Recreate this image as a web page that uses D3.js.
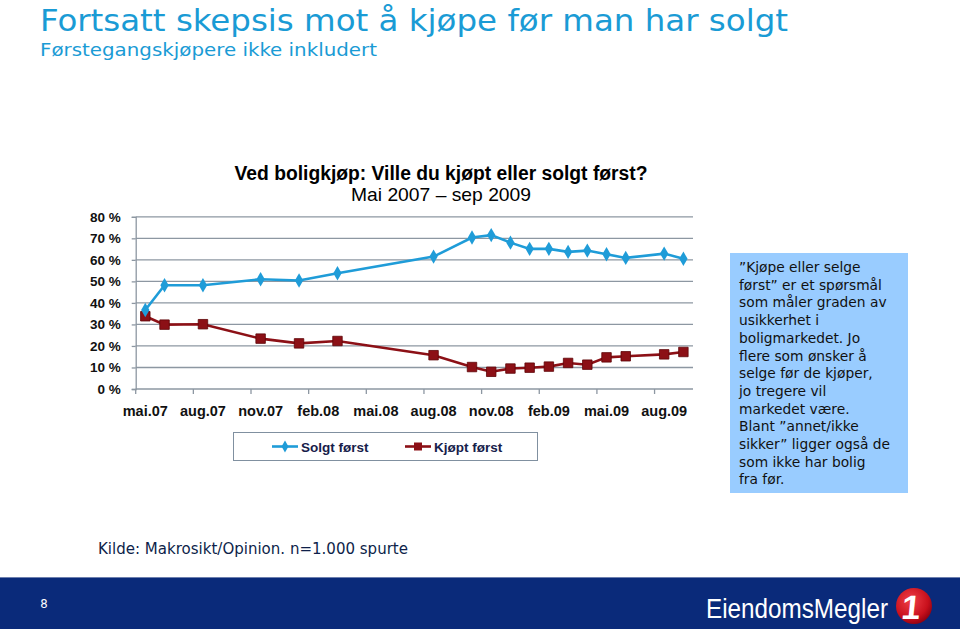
<!DOCTYPE html>
<html><head><meta charset="utf-8">
<script src="https://cdn.jsdelivr.net/npm/d3@7"></script>
<style>body{margin:0;background:#fff} svg{display:block}</style>
</head><body>
<svg id="c" width="960" height="629"></svg>
<script>
// ---- data ----
const months = ["mai.07","jun.07","jul.07","aug.07","sep.07","okt.07","nov.07","des.07",
  "jan.08","feb.08","mar.08","apr.08","mai.08","jun.08","jul.08","aug.08","sep.08","okt.08","nov.08","des.08",
  "jan.09","feb.09","mar.09","apr.09","mai.09","jun.09","jul.09","aug.09","sep.09"];
const tickLabels = ["mai.07","aug.07","nov.07","feb.08","mai.08","aug.08","nov.08","feb.09","mai.09","aug.09"];
const surveyMonths = ["mai.07","jun.07","aug.07","nov.07","jan.08","mar.08","aug.08","okt.08","nov.08","des.08",
  "jan.09","feb.09","mar.09","apr.09","mai.09","jun.09","aug.09","sep.09"];
const solgtForst = [36.7,48.2,48.2,51.0,50.4,53.8,61.5,70.4,71.5,68.0,65.1,65.1,63.7,64.3,62.6,60.9,62.9,60.5];
const kjoptForst = [33.8,29.9,30.1,23.4,21.2,22.3,15.7,10.2,8.0,9.5,9.9,10.4,12.1,11.3,14.7,15.2,16.1,17.2];
const yTicks = [0,10,20,30,40,50,60,70,80];
const seriesNames = ["Solgt først","Kjøpt først"];
const noteLines = ["\u201DKjøpe eller selge","først\u201D er et spørsmål","som måler graden av","usikkerhet i",
  "boligmarkedet. Jo","flere som ønsker å","selge før de kjøper,","jo tregere vil","markedet være.",
  "Blant \u201Dannet/ikke","sikker\u201D ligger også de","som ikke har bolig","fra før."];

const BLUE = "#1f9cd8", RED = "#8c1016", TITLE = "#1a9bd5";
const svg = d3.select("#c");

// ---- slide titles ----
svg.append("text").attr("x",40).attr("y",31).attr("fill",TITLE)
  .style("font-family","'DejaVu Sans Condensed','DejaVu Sans',sans-serif").style("font-stretch","condensed")
  .style("font-size","31px").attr("textLength",748).attr("lengthAdjust","spacingAndGlyphs")
  .text("Fortsatt skepsis mot å kjøpe før man har solgt");
svg.append("text").attr("x",40).attr("y",56).attr("fill",TITLE)
  .style("font-family","'DejaVu Sans Condensed','DejaVu Sans',sans-serif").style("font-stretch","condensed")
  .style("font-size","18px").attr("textLength",337).attr("lengthAdjust","spacingAndGlyphs")
  .text("Førstegangskjøpere ikke inkludert");

// ---- chart titles ----
svg.append("text").attr("x",441).attr("y",180).attr("text-anchor","middle")
  .style("font-family","'Liberation Sans',Arial,sans-serif").style("font-weight","bold").style("font-size","20px")
  .attr("textLength",413).attr("lengthAdjust","spacingAndGlyphs").attr("fill","#000")
  .text("Ved boligkjøp: Ville du kjøpt eller solgt først?");
svg.append("text").attr("x",441).attr("y",201).attr("text-anchor","middle")
  .style("font-family","'Liberation Sans',Arial,sans-serif").style("font-size","19px")
  .attr("textLength",180).attr("lengthAdjust","spacingAndGlyphs").attr("fill","#000")
  .text("Mai 2007 \u2013 sep 2009");

// ---- scales ----
const x = d3.scaleBand().domain(months).range([135.7, 693]).padding(0);
const y = d3.scaleLinear().domain([0,80]).range([389, 216.8]);
const cx = m => x(m) + x.bandwidth()/2;

const g = svg.append("g");
// gridlines
g.selectAll("line.grid").data(yTicks.filter(d=>d>0)).join("line")
  .attr("x1",x.range()[0]).attr("x2",x.range()[1])
  .attr("y1",d=>y(d)).attr("y2",d=>y(d))
  .attr("stroke","#8d97a2").attr("stroke-width",1.3);

// y axis
const yAxis = d3.axisLeft(y).tickValues(yTicks).tickSize(4).tickPadding(11).tickFormat(d=>d+" %");
const ya = g.append("g").attr("transform",`translate(${x.range()[0]},0)`).call(yAxis);
ya.select(".domain").attr("stroke","#8d97a2").attr("stroke-width",1.3);
ya.selectAll(".tick line").attr("stroke","#8d97a2").attr("stroke-width",1.3);
ya.selectAll(".tick text").style("font-family","'Liberation Sans',Arial,sans-serif")
  .style("font-weight","bold").style("font-size","13.5px").attr("fill","#111");

// x axis baseline
g.append("line").attr("x1",x.range()[0]).attr("x2",x.range()[1]).attr("y1",y(0)).attr("y2",y(0))
  .attr("stroke","#8d97a2").attr("stroke-width",1.3);
// x tick marks at band boundaries
g.selectAll("line.xt").data(tickLabels).join("line")
  .attr("x1",d=>x(d)).attr("x2",d=>x(d)).attr("y1",y(0)).attr("y2",y(0)+5)
  .attr("stroke","#8d97a2").attr("stroke-width",1.3);
// x labels
const xAxis = d3.axisBottom(x).tickValues(tickLabels).tickSize(0).tickPadding(17);
const xa = g.append("g").attr("transform",`translate(0,${y(0)})`).call(xAxis);
xa.select(".domain").remove();
xa.selectAll(".tick text").style("font-family","'Liberation Sans',Arial,sans-serif")
  .style("font-weight","bold").style("font-size","14.5px").attr("fill","#111");

// lines
const line = d3.line().x((d,i)=>cx(surveyMonths[i])).y(d=>y(d));
g.append("path").datum(kjoptForst).attr("d",line).attr("fill","none").attr("stroke",RED).attr("stroke-width",2.6);
g.append("path").datum(solgtForst).attr("d",line).attr("fill","none").attr("stroke",BLUE).attr("stroke-width",2.6);

const diamond = d3.symbol().type(d3.symbolDiamond).size(60);
const square = d3.symbol().type(d3.symbolSquare).size(90);
g.selectAll("path.sq").data(kjoptForst).join("path").attr("d",square)
  .attr("transform",(d,i)=>`translate(${cx(surveyMonths[i])},${y(d)})`)
  .attr("fill",RED).attr("stroke","#5e0508").attr("stroke-width",0.8);
g.selectAll("path.dm").data(solgtForst).join("path").attr("d",diamond)
  .attr("transform",(d,i)=>`translate(${cx(surveyMonths[i])},${y(d)})`)
  .attr("fill",BLUE);

// legend
const lg = svg.append("g");
lg.append("rect").attr("x",233.5).attr("y",432.5).attr("width",304).attr("height",28)
  .attr("fill","#fff").attr("stroke","#8090a0").attr("stroke-width",1);
const legendItems = [{name:seriesNames[0],x0:272,color:BLUE},{name:seriesNames[1],x0:405,color:RED}];
legendItems.forEach((it,k)=>{
  lg.append("line").attr("x1",it.x0).attr("x2",it.x0+26).attr("y1",446.5).attr("y2",446.5)
    .attr("stroke",it.color).attr("stroke-width",2.6);
  lg.append("path").attr("d",k===0?d3.symbol().type(d3.symbolDiamond).size(40)():d3.symbol().type(d3.symbolSquare).size(64)())
    .attr("transform",`translate(${it.x0+13},446.5)`).attr("fill",it.color);
  lg.append("text").attr("x",it.x0+29).attr("y",451.5)
    .style("font-family","'Liberation Sans',Arial,sans-serif").style("font-weight","bold").style("font-size","13.5px")
    .attr("fill","#16204a").text(it.name);
});

// note box
svg.append("rect").attr("x",730).attr("y",253).attr("width",178).attr("height",240).attr("fill","#99ccff");
svg.append("g").selectAll("text").data(noteLines).join("text")
  .attr("x",739).attr("y",(d,i)=>272+i*17.7)
  .style("font-family","'DejaVu Sans',Verdana,sans-serif").style("font-size","13.8px").attr("fill","#111")
  .text(d=>d);

// source
svg.append("text").attr("x",98).attr("y",554).attr("fill","#0e1f4a")
  .style("font-family","'DejaVu Sans Condensed','DejaVu Sans',sans-serif").style("font-stretch","condensed")
  .style("font-size","15px").attr("textLength",310).attr("lengthAdjust","spacingAndGlyphs")
  .text("Kilde: Makrosikt/Opinion. n=1.000 spurte");

// footer
svg.append("rect").attr("x",0).attr("y",577).attr("width",960).attr("height",52).attr("fill","#0a2a7a");
svg.append("line").attr("x1",0).attr("x2",960).attr("y1",577.5).attr("y2",577.5).attr("stroke","#6d7fae");
svg.append("text").attr("x",44).attr("y",608).attr("text-anchor","middle").attr("fill","#fff")
  .style("font-family","'DejaVu Sans Condensed','DejaVu Sans',sans-serif").style("font-size","13px").text("8");
svg.append("text").attr("x",706).attr("y",618).attr("fill","#fff")
  .style("font-family","'Liberation Sans Narrow','Liberation Sans',Arial,sans-serif").style("font-size","28px")
  .style("font-weight","500")
  .attr("textLength",182).attr("lengthAdjust","spacingAndGlyphs").text("EiendomsMegler");
const defs = svg.append("defs");
const rg = defs.append("radialGradient").attr("id","rg").attr("cx","40%").attr("cy","35%").attr("r","70%");
rg.append("stop").attr("offset","0%").attr("stop-color","#f04048");
rg.append("stop").attr("offset","70%").attr("stop-color","#c8101c");
rg.append("stop").attr("offset","100%").attr("stop-color","#8a0010");
svg.append("circle").attr("cx",914).attr("cy",606).attr("r",18).attr("fill","url(#rg)");
svg.append("text").attr("x",912).attr("y",619).attr("text-anchor","middle").attr("fill","#fff")
  .style("font-family","'Liberation Sans',Arial,sans-serif").style("font-weight","bold").style("font-size","34px")
  .attr("transform","skewX(-6)").attr("dx",63).text("1");
</script>
</body></html>
